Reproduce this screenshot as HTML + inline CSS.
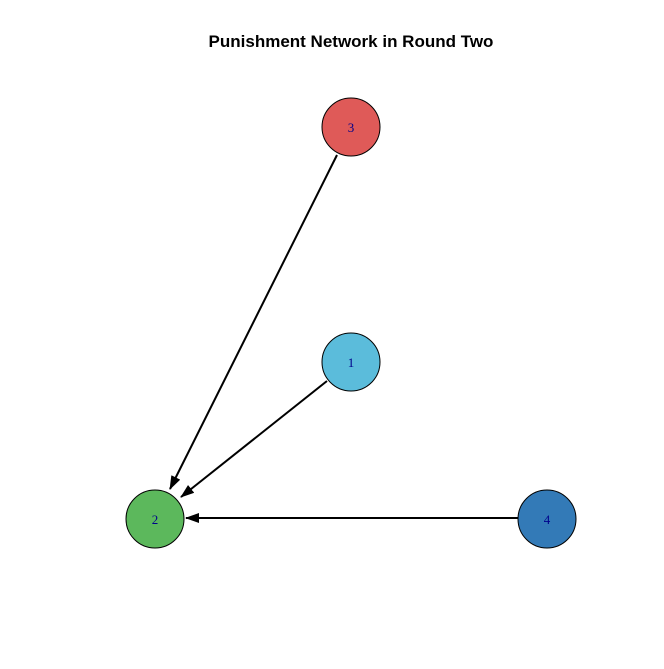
<!DOCTYPE html>
<html><head><style>body{margin:0;background:#fff}</style></head><body>
<svg width="664" height="664" xmlns="http://www.w3.org/2000/svg">
<rect width="664" height="664" fill="#fff"/>
<text x="351" y="47" text-anchor="middle" font-family="Liberation Sans, sans-serif" font-weight="bold" font-size="17">Punishment Network in Round Two</text>
<defs><marker id="a" markerWidth="14" markerHeight="10" refX="13" refY="5" orient="auto" markerUnits="userSpaceOnUse"><path d="M0,0 L14,5 L0,10 z" fill="#000"/></marker></defs>
<g stroke="#000" stroke-width="2" fill="none">
<line x1="337" y1="155" x2="170" y2="489" marker-end="url(#a)"/>
<line x1="327" y1="381" x2="181" y2="497" marker-end="url(#a)"/>
<line x1="518" y1="518" x2="186" y2="518" marker-end="url(#a)"/>
</g>
<g stroke="#000" stroke-width="1">
<circle cx="351" cy="127" r="29" fill="#DF5A58"/>
<circle cx="351" cy="362" r="29" fill="#5BBCDB"/>
<circle cx="155" cy="519" r="29" fill="#5CB85C"/>
<circle cx="547" cy="519" r="29" fill="#337AB7"/>
</g>
<g font-family="Liberation Serif, serif" font-size="13" fill="#00008B" text-anchor="middle">
<text x="351" y="132">3</text>
<text x="351" y="367">1</text>
<text x="155" y="524">2</text>
<text x="547" y="524">4</text>
</g>
</svg>
</body></html>
